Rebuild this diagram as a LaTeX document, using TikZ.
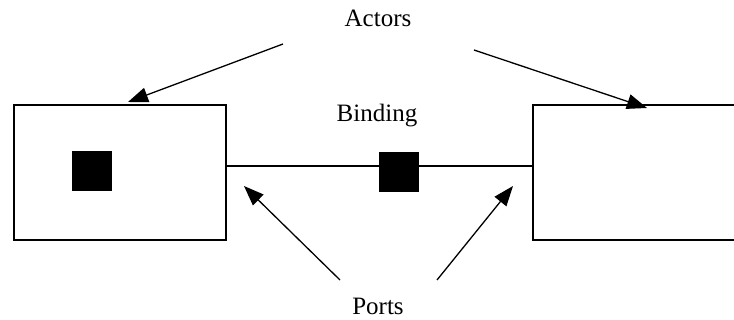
\documentclass[tikz,border=0pt]{standalone}
\usepackage{fontspec}
\setmainfont{Liberation Serif}
\usetikzlibrary{arrows.meta}
\begin{document}
\begin{tikzpicture}[x=1pt,y=-1pt,
  actor/.style={draw=black,line width=1.7pt,fill=white,inner sep=0pt,anchor=north west},
  port/.style={fill=black,inner sep=0pt,minimum size=40pt,anchor=north west},
  wire/.style={line width=1.3pt},
  pointer/.style={line width=1.3pt,-{Triangle[length=20pt,width=15pt]}},
  label/.style={font=\fontsize{25}{30}\selectfont,anchor=base,inner sep=0pt}]
  \useasboundingbox (0,0) rectangle (734,320);
  % two actors
  \node[actor,minimum width=212pt,minimum height=134.5pt] (left) at (13,104.5) {};
  \node[actor,minimum width=230pt,minimum height=134.5pt] (right) at (532,104.5) {};
  % binding between the actors
  \coordinate (bl) at (225,166);
  \coordinate (br) at (532,166);
  \draw[wire] (bl) -- (br);
  % ports
  \node[port] (p1) at (72,151) {};
  \node[port] (p2) at (379,152) {};
  % labels
  \node[label] (actors) at (378,27) {Actors};
  \node[label] (binding) at (377,122) {Binding};
  \node[label] (ports) at (378,315) {Ports};
  % pointer ends
  \coordinate (a1s) at (283,44);
  \coordinate (a1t) at (128,102);
  \coordinate (a2s) at (474,50);
  \coordinate (a2t) at (647,108);
  \coordinate (p1s) at (340,280);
  \coordinate (p1t) at (244,186);
  \coordinate (p2s) at (437,280);
  \coordinate (p2t) at (513,186);
  \draw[pointer] (a1s) -- (a1t);
  \draw[pointer] (a2s) -- (a2t);
  \draw[pointer] (p1s) -- (p1t);
  \draw[pointer] (p2s) -- (p2t);
\end{tikzpicture}
\end{document}
